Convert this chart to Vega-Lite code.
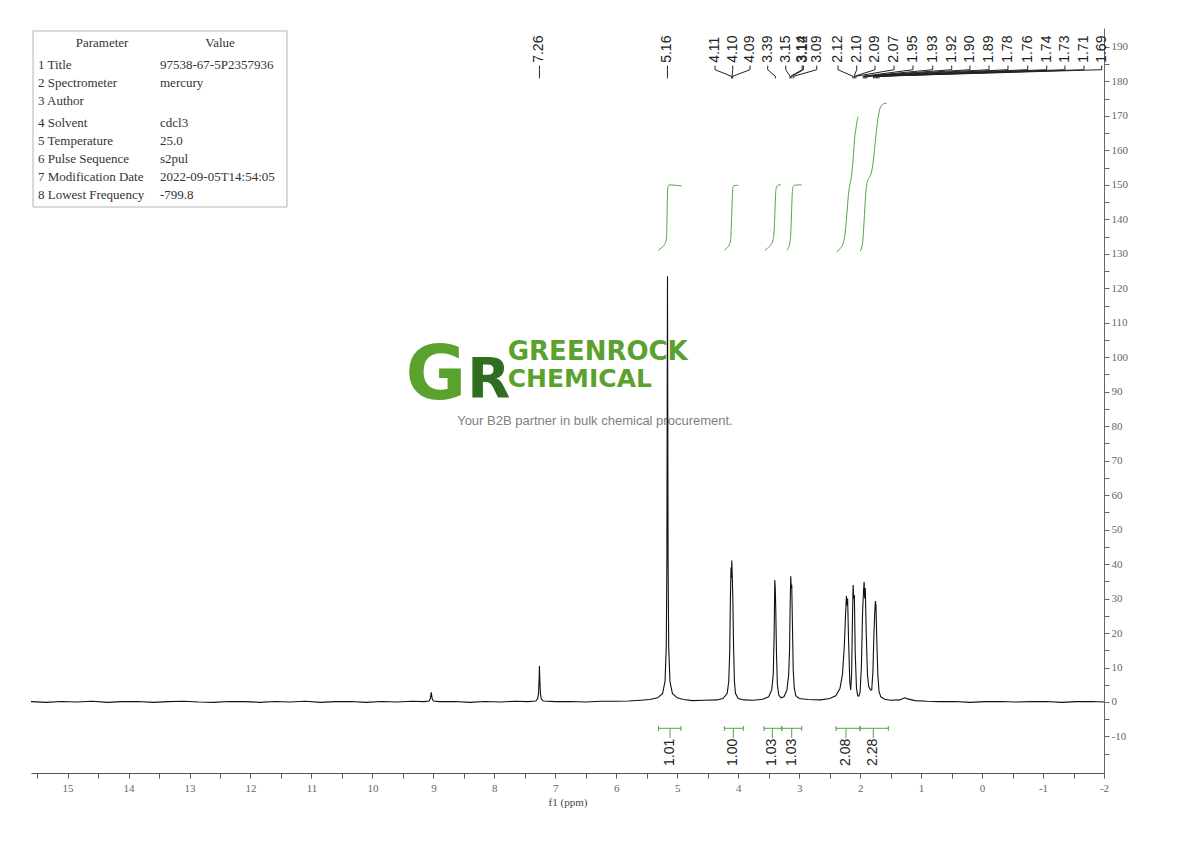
{
  "$schema": "https://vega.github.io/schema/vega-lite/v6.json",
  "width": 1073,
  "height": 745,
  "autosize": {"type": "none"},
  "padding": {"left": 31, "top": 28, "right": 86, "bottom": 68},
  "background": "white",
  "config": {"view": {"stroke": null}, "axis": {"domainWidth": 1, "tickWidth": 1}},
  "data": {"values": [{}]},
  "datasets": {
    "spectrum": [
      {"ppm": 15.6, "i": 0.1}, {"ppm": 15.35, "i": -0.1}, {"ppm": 15.1, "i": 0.15}, {"ppm": 14.85, "i": 0.0},
      {"ppm": 14.6, "i": 0.2}, {"ppm": 14.35, "i": -0.1}, {"ppm": 14.1, "i": 0.1}, {"ppm": 13.85, "i": 0.15},
      {"ppm": 13.6, "i": -0.1}, {"ppm": 13.35, "i": 0.1}, {"ppm": 13.1, "i": 0.2}, {"ppm": 12.85, "i": 0.0},
      {"ppm": 12.6, "i": -0.1}, {"ppm": 12.35, "i": 0.15}, {"ppm": 12.1, "i": 0.1}, {"ppm": 11.85, "i": -0.1},
      {"ppm": 11.6, "i": 0.15}, {"ppm": 11.35, "i": 0.0}, {"ppm": 11.1, "i": 0.2}, {"ppm": 10.85, "i": -0.1},
      {"ppm": 10.6, "i": 0.1}, {"ppm": 10.35, "i": 0.15}, {"ppm": 10.1, "i": -0.1}, {"ppm": 9.85, "i": 0.15},
      {"ppm": 9.6, "i": 0.0}, {"ppm": 9.35, "i": 0.2}, {"ppm": 9.15, "i": 0.1}, {"ppm": 9.07, "i": 0.3},
      {"ppm": 9.05, "i": 1.0}, {"ppm": 9.035, "i": 2.8}, {"ppm": 9.02, "i": 1.0}, {"ppm": 9.0, "i": 0.3},
      {"ppm": 8.9, "i": 0.1}, {"ppm": 8.65, "i": 0.15}, {"ppm": 8.4, "i": -0.1}, {"ppm": 8.15, "i": 0.15},
      {"ppm": 7.9, "i": 0.0}, {"ppm": 7.65, "i": 0.2}, {"ppm": 7.45, "i": 0.1}, {"ppm": 7.32, "i": 0.3},
      {"ppm": 7.29, "i": 0.9}, {"ppm": 7.275, "i": 2.5}, {"ppm": 7.265, "i": 7.0}, {"ppm": 7.26, "i": 10.4},
      {"ppm": 7.255, "i": 7.0}, {"ppm": 7.245, "i": 2.5}, {"ppm": 7.23, "i": 0.9}, {"ppm": 7.2, "i": 0.3},
      {"ppm": 7.0, "i": 0.1}, {"ppm": 6.75, "i": 0.15}, {"ppm": 6.5, "i": 0.0}, {"ppm": 6.25, "i": 0.2},
      {"ppm": 6.0, "i": 0.2}, {"ppm": 5.8, "i": 0.3}, {"ppm": 5.6, "i": 0.5}, {"ppm": 5.45, "i": 0.7},
      {"ppm": 5.32, "i": 1.2}, {"ppm": 5.24, "i": 2.5}, {"ppm": 5.2, "i": 6}, {"ppm": 5.18, "i": 16},
      {"ppm": 5.17, "i": 40}, {"ppm": 5.165, "i": 85}, {"ppm": 5.16, "i": 123.5}, {"ppm": 5.155, "i": 85},
      {"ppm": 5.15, "i": 40}, {"ppm": 5.14, "i": 16}, {"ppm": 5.12, "i": 6}, {"ppm": 5.08, "i": 2.5},
      {"ppm": 5.0, "i": 1.2}, {"ppm": 4.9, "i": 0.7}, {"ppm": 4.75, "i": 0.4}, {"ppm": 4.55, "i": 0.5},
      {"ppm": 4.35, "i": 0.6}, {"ppm": 4.25, "i": 1.0}, {"ppm": 4.18, "i": 2.5}, {"ppm": 4.155, "i": 6},
      {"ppm": 4.14, "i": 14}, {"ppm": 4.128, "i": 30}, {"ppm": 4.118, "i": 39}, {"ppm": 4.112, "i": 36},
      {"ppm": 4.105, "i": 41}, {"ppm": 4.098, "i": 37}, {"ppm": 4.088, "i": 30}, {"ppm": 4.076, "i": 16},
      {"ppm": 4.062, "i": 6}, {"ppm": 4.045, "i": 2.5}, {"ppm": 4.0, "i": 1.0}, {"ppm": 3.9, "i": 0.6},
      {"ppm": 3.75, "i": 0.5}, {"ppm": 3.6, "i": 0.8}, {"ppm": 3.5, "i": 1.5}, {"ppm": 3.45, "i": 3.5},
      {"ppm": 3.425, "i": 8}, {"ppm": 3.41, "i": 20}, {"ppm": 3.4, "i": 35.4}, {"ppm": 3.392, "i": 33},
      {"ppm": 3.384, "i": 27}, {"ppm": 3.372, "i": 14}, {"ppm": 3.357, "i": 5}, {"ppm": 3.335, "i": 2},
      {"ppm": 3.3, "i": 1.2}, {"ppm": 3.25, "i": 1.5}, {"ppm": 3.2, "i": 3.5}, {"ppm": 3.172, "i": 8},
      {"ppm": 3.158, "i": 15}, {"ppm": 3.148, "i": 28}, {"ppm": 3.138, "i": 36.5}, {"ppm": 3.13, "i": 33},
      {"ppm": 3.122, "i": 34}, {"ppm": 3.11, "i": 22}, {"ppm": 3.097, "i": 9}, {"ppm": 3.08, "i": 4},
      {"ppm": 3.055, "i": 1.8}, {"ppm": 3.0, "i": 1.0}, {"ppm": 2.85, "i": 0.7}, {"ppm": 2.65, "i": 0.6},
      {"ppm": 2.5, "i": 1.0}, {"ppm": 2.4, "i": 1.8}, {"ppm": 2.33, "i": 4}, {"ppm": 2.29, "i": 8},
      {"ppm": 2.26, "i": 16}, {"ppm": 2.24, "i": 25}, {"ppm": 2.225, "i": 30.7}, {"ppm": 2.215, "i": 28},
      {"ppm": 2.205, "i": 30}, {"ppm": 2.19, "i": 18}, {"ppm": 2.17, "i": 6}, {"ppm": 2.155, "i": 3.5},
      {"ppm": 2.14, "i": 8}, {"ppm": 2.125, "i": 25}, {"ppm": 2.115, "i": 33.9}, {"ppm": 2.105, "i": 30},
      {"ppm": 2.095, "i": 31}, {"ppm": 2.08, "i": 14}, {"ppm": 2.06, "i": 4}, {"ppm": 2.04, "i": 1.8},
      {"ppm": 2.02, "i": 1.7}, {"ppm": 2.0, "i": 3}, {"ppm": 1.98, "i": 10}, {"ppm": 1.96, "i": 26},
      {"ppm": 1.945, "i": 32}, {"ppm": 1.935, "i": 34.9}, {"ppm": 1.925, "i": 30}, {"ppm": 1.915, "i": 33},
      {"ppm": 1.9, "i": 20}, {"ppm": 1.88, "i": 8}, {"ppm": 1.86, "i": 4.5}, {"ppm": 1.83, "i": 3.5},
      {"ppm": 1.81, "i": 3.5}, {"ppm": 1.79, "i": 9}, {"ppm": 1.775, "i": 19}, {"ppm": 1.76, "i": 26},
      {"ppm": 1.75, "i": 29.3}, {"ppm": 1.74, "i": 28}, {"ppm": 1.73, "i": 20}, {"ppm": 1.71, "i": 8},
      {"ppm": 1.69, "i": 3}, {"ppm": 1.66, "i": 1.5}, {"ppm": 1.6, "i": 0.8}, {"ppm": 1.5, "i": 0.5},
      {"ppm": 1.35, "i": 0.6}, {"ppm": 1.27, "i": 1.2}, {"ppm": 1.22, "i": 0.9}, {"ppm": 1.1, "i": 0.4},
      {"ppm": 0.9, "i": 0.2}, {"ppm": 0.7, "i": 0.1}, {"ppm": 0.45, "i": 0.15}, {"ppm": 0.2, "i": -0.1},
      {"ppm": -0.05, "i": 0.1}, {"ppm": -0.3, "i": 0.15}, {"ppm": -0.55, "i": 0.0}, {"ppm": -0.8, "i": 0.1},
      {"ppm": -1.05, "i": 0.15}, {"ppm": -1.3, "i": -0.1}, {"ppm": -1.55, "i": 0.1}, {"ppm": -1.8, "i": 0.15},
      {"ppm": -2.0, "i": 0.0}
    ],
    "integrals": [
      {"g": 1, "ppm": 5.31, "v": 131.0}, {"g": 1, "ppm": 5.27, "v": 131.6}, {"g": 1, "ppm": 5.22, "v": 132.4},
      {"g": 1, "ppm": 5.19, "v": 133.4}, {"g": 1, "ppm": 5.175, "v": 135}, {"g": 1, "ppm": 5.17, "v": 138},
      {"g": 1, "ppm": 5.165, "v": 143}, {"g": 1, "ppm": 5.16, "v": 147.5}, {"g": 1, "ppm": 5.155, "v": 149.3},
      {"g": 1, "ppm": 5.14, "v": 149.9}, {"g": 1, "ppm": 5.1, "v": 150.0}, {"g": 1, "ppm": 5.0, "v": 149.8},
      {"g": 1, "ppm": 4.93, "v": 149.7},
      {"g": 2, "ppm": 4.225, "v": 131.0}, {"g": 2, "ppm": 4.19, "v": 131.6}, {"g": 2, "ppm": 4.15, "v": 132.5},
      {"g": 2, "ppm": 4.125, "v": 134}, {"g": 2, "ppm": 4.115, "v": 137}, {"g": 2, "ppm": 4.105, "v": 142},
      {"g": 2, "ppm": 4.095, "v": 147}, {"g": 2, "ppm": 4.085, "v": 149.2}, {"g": 2, "ppm": 4.07, "v": 149.8},
      {"g": 2, "ppm": 4.03, "v": 149.9}, {"g": 2, "ppm": 4.0, "v": 149.8},
      {"g": 3, "ppm": 3.56, "v": 131.0}, {"g": 3, "ppm": 3.52, "v": 131.6}, {"g": 3, "ppm": 3.47, "v": 132.5},
      {"g": 3, "ppm": 3.43, "v": 134}, {"g": 3, "ppm": 3.41, "v": 137}, {"g": 3, "ppm": 3.4, "v": 141},
      {"g": 3, "ppm": 3.39, "v": 146}, {"g": 3, "ppm": 3.38, "v": 148.8}, {"g": 3, "ppm": 3.36, "v": 149.7},
      {"g": 3, "ppm": 3.33, "v": 150.0}, {"g": 3, "ppm": 3.3, "v": 150.0},
      {"g": 4, "ppm": 3.2, "v": 131.0}, {"g": 4, "ppm": 3.175, "v": 131.8}, {"g": 4, "ppm": 3.15, "v": 133.5},
      {"g": 4, "ppm": 3.135, "v": 137}, {"g": 4, "ppm": 3.125, "v": 142}, {"g": 4, "ppm": 3.115, "v": 147},
      {"g": 4, "ppm": 3.1, "v": 149.4}, {"g": 4, "ppm": 3.07, "v": 149.9}, {"g": 4, "ppm": 3.0, "v": 150.0},
      {"g": 4, "ppm": 2.96, "v": 150.0},
      {"g": 5, "ppm": 2.385, "v": 130.6}, {"g": 5, "ppm": 2.33, "v": 131.5}, {"g": 5, "ppm": 2.28, "v": 133},
      {"g": 5, "ppm": 2.25, "v": 135.4}, {"g": 5, "ppm": 2.22, "v": 141}, {"g": 5, "ppm": 2.194, "v": 146.7},
      {"g": 5, "ppm": 2.17, "v": 150}, {"g": 5, "ppm": 2.15, "v": 151.5}, {"g": 5, "ppm": 2.13, "v": 154.5},
      {"g": 5, "ppm": 2.11, "v": 158.6}, {"g": 5, "ppm": 2.09, "v": 163.5}, {"g": 5, "ppm": 2.068, "v": 166.4},
      {"g": 5, "ppm": 2.05, "v": 168.6}, {"g": 5, "ppm": 2.03, "v": 169.8},
      {"g": 6, "ppm": 2.0, "v": 130.8}, {"g": 6, "ppm": 1.975, "v": 131.8}, {"g": 6, "ppm": 1.958, "v": 133.5},
      {"g": 6, "ppm": 1.94, "v": 138}, {"g": 6, "ppm": 1.92, "v": 144.2}, {"g": 6, "ppm": 1.9, "v": 149},
      {"g": 6, "ppm": 1.87, "v": 151.5}, {"g": 6, "ppm": 1.838, "v": 152.4}, {"g": 6, "ppm": 1.81, "v": 154},
      {"g": 6, "ppm": 1.784, "v": 156.8}, {"g": 6, "ppm": 1.76, "v": 161}, {"g": 6, "ppm": 1.728, "v": 166.4},
      {"g": 6, "ppm": 1.7, "v": 170}, {"g": 6, "ppm": 1.674, "v": 172.2}, {"g": 6, "ppm": 1.64, "v": 173.2},
      {"g": 6, "ppm": 1.6, "v": 173.6}, {"g": 6, "ppm": 1.564, "v": 173.7}
    ],
    "bars": [
      {"label": "1.01", "from": 5.307, "to": 4.939, "center": 5.118},
      {"label": "1.00", "from": 4.228, "to": 3.916, "center": 4.08},
      {"label": "1.03", "from": 3.577, "to": 3.286, "center": 3.44},
      {"label": "1.03", "from": 3.286, "to": 2.958, "center": 3.122},
      {"label": "2.08", "from": 2.396, "to": 2.002, "center": 2.232},
      {"label": "2.28", "from": 2.002, "to": 1.538, "center": 1.784}
    ],
    "peaks": [
      {"t": "7.26", "pos": 7.26, "ppm": 7.26},
      {"t": "5.16", "pos": 5.16, "ppm": 5.16},
      {"t": "4.11", "pos": 4.38, "ppm": 4.11},
      {"t": "4.10", "pos": 4.09, "ppm": 4.10},
      {"t": "4.09", "pos": 3.806, "ppm": 4.09},
      {"t": "3.39", "pos": 3.516, "ppm": 3.39},
      {"t": "3.15", "pos": 3.22, "ppm": 3.15},
      {"t": "3.14", "pos": 2.95, "ppm": 3.14},
      {"t": "3.12", "pos": 2.93, "ppm": 3.12},
      {"t": "3.09", "pos": 2.712, "ppm": 3.09},
      {"t": "2.12", "pos": 2.363, "ppm": 2.12},
      {"t": "2.10", "pos": 2.056, "ppm": 2.10},
      {"t": "2.09", "pos": 1.756, "ppm": 2.09},
      {"t": "2.07", "pos": 1.444, "ppm": 2.07},
      {"t": "1.95", "pos": 1.133, "ppm": 1.95},
      {"t": "1.93", "pos": 0.81, "ppm": 1.93},
      {"t": "1.92", "pos": 0.498, "ppm": 1.92},
      {"t": "1.90", "pos": 0.198, "ppm": 1.90},
      {"t": "1.89", "pos": -0.114, "ppm": 1.89},
      {"t": "1.78", "pos": -0.425, "ppm": 1.78},
      {"t": "1.76", "pos": -0.749, "ppm": 1.76},
      {"t": "1.74", "pos": -1.06, "ppm": 1.74},
      {"t": "1.73", "pos": -1.36, "ppm": 1.73},
      {"t": "1.71", "pos": -1.672, "ppm": 1.71},
      {"t": "1.69", "pos": -1.962, "ppm": 1.69}
    ],
    "table": [
      {"col": "param", "grp": "head", "lines": ["Parameter"]},
      {"col": "value", "grp": "head", "lines": ["Value"]},
      {"col": "param", "grp": "a", "lines": ["1 Title", "2 Spectrometer", "3 Author"]},
      {"col": "value", "grp": "a", "lines": ["97538-67-5P2357936", "mercury"]},
      {"col": "param", "grp": "b", "lines": ["4 Solvent", "5 Temperature", "6 Pulse Sequence", "7 Modification Date", "8 Lowest Frequency"]},
      {"col": "value", "grp": "b", "lines": ["cdcl3", "25.0", "s2pul", "2022-09-05T14:54:05", "-799.8"]}
    ]
  },
  "layer": [
    {
      "mark": {"type": "rect", "fill": "white", "fillOpacity": 0, "stroke": "#b4b4b4", "strokeWidth": 1},
      "encoding": {
        "x": {"datum": 15.567, "type": "quantitative", "scale": {"domain": [15.6, -2], "nice": false, "zero": false}},
        "x2": {"datum": 11.401},
        "y": {"datum": 194.63, "type": "quantitative", "scale": {"domain": [-20.6, 195.5], "nice": false, "zero": false}},
        "y2": {"datum": 143.57}
      }
    },
    {
      "data": {"name": "table"},
      "transform": [{"filter": "datum.col === 'param' && datum.grp === 'head'"}],
      "mark": {"type": "text", "align": "center", "baseline": "alphabetic", "font": "Liberation Serif", "fontSize": 13, "color": "#333"},
      "encoding": {"x": {"datum": 14.435, "type": "quantitative"}, "y": {"datum": 190.02, "type": "quantitative"}, "text": {"field": "lines"}}
    },
    {
      "data": {"name": "table"},
      "transform": [{"filter": "datum.col === 'value' && datum.grp === 'head'"}],
      "mark": {"type": "text", "align": "center", "baseline": "alphabetic", "font": "Liberation Serif", "fontSize": 13, "color": "#333"},
      "encoding": {"x": {"datum": 12.5, "type": "quantitative"}, "y": {"datum": 190.02, "type": "quantitative"}, "text": {"field": "lines"}}
    },
    {
      "data": {"name": "table"},
      "transform": [{"filter": "datum.col === 'param' && datum.grp === 'a'"}],
      "mark": {"type": "text", "align": "left", "baseline": "alphabetic", "lineHeight": 18, "font": "Liberation Serif", "fontSize": 13, "color": "#333"},
      "encoding": {"x": {"datum": 15.485, "type": "quantitative"}, "y": {"datum": 183.63, "type": "quantitative"}, "text": {"field": "lines"}}
    },
    {
      "data": {"name": "table"},
      "transform": [{"filter": "datum.col === 'value' && datum.grp === 'a'"}],
      "mark": {"type": "text", "align": "left", "baseline": "alphabetic", "lineHeight": 18, "font": "Liberation Serif", "fontSize": 13, "color": "#333"},
      "encoding": {"x": {"datum": 13.484, "type": "quantitative"}, "y": {"datum": 183.63, "type": "quantitative"}, "text": {"field": "lines"}}
    },
    {
      "data": {"name": "table"},
      "transform": [{"filter": "datum.col === 'param' && datum.grp === 'b'"}],
      "mark": {"type": "text", "align": "left", "baseline": "alphabetic", "lineHeight": 18, "font": "Liberation Serif", "fontSize": 13, "color": "#333"},
      "encoding": {"x": {"datum": 15.485, "type": "quantitative"}, "y": {"datum": 166.81, "type": "quantitative"}, "text": {"field": "lines"}}
    },
    {
      "data": {"name": "table"},
      "transform": [{"filter": "datum.col === 'value' && datum.grp === 'b'"}],
      "mark": {"type": "text", "align": "left", "baseline": "alphabetic", "lineHeight": 18, "font": "Liberation Serif", "fontSize": 13, "color": "#333"},
      "encoding": {"x": {"datum": 13.484, "type": "quantitative"}, "y": {"datum": 166.81, "type": "quantitative"}, "text": {"field": "lines"}}
    },
    {
      "mark": {"type": "text", "text": "G", "font": "DejaVu Sans", "fontWeight": "bold", "fontSize": 74, "color": "#5aa12e", "align": "center", "baseline": "alphabetic"},
      "encoding": {"x": {"datum": 8.96, "type": "quantitative"}, "y": {"datum": 87.8, "type": "quantitative"}}
    },
    {
      "mark": {"type": "text", "text": "R", "font": "DejaVu Sans", "fontWeight": "bold", "fontSize": 56, "color": "#2f6d1f", "align": "center", "baseline": "alphabetic"},
      "encoding": {"x": {"datum": 8.09, "type": "quantitative"}, "y": {"datum": 88.4, "type": "quantitative"}}
    },
    {
      "mark": {"type": "text", "text": "GREENROCK", "font": "DejaVu Sans", "fontWeight": "bold", "fontSize": 26, "color": "#5aa12e", "align": "left", "baseline": "alphabetic"},
      "encoding": {"x": {"datum": 7.78, "type": "quantitative"}, "y": {"datum": 99.2, "type": "quantitative"}}
    },
    {
      "mark": {"type": "text", "text": "CHEMICAL", "font": "DejaVu Sans", "fontWeight": "bold", "fontSize": 25, "color": "#5aa12e", "align": "left", "baseline": "alphabetic"},
      "encoding": {"x": {"datum": 7.78, "type": "quantitative"}, "y": {"datum": 91.4, "type": "quantitative"}}
    },
    {
      "mark": {"type": "text", "text": "Your B2B partner in bulk chemical procurement.", "font": "Liberation Sans", "fontSize": 13, "color": "#808080", "align": "center", "baseline": "middle"},
      "encoding": {"x": {"datum": 6.35, "type": "quantitative"}, "y": {"datum": 81.5, "type": "quantitative"}}
    },
    {
      "data": {"name": "integrals"},
      "mark": {"type": "line", "color": "#4fa544", "strokeWidth": 1, "interpolate": "monotone"},
      "encoding": {
        "x": {"field": "ppm", "type": "quantitative"},
        "y": {"field": "v", "type": "quantitative"},
        "detail": {"field": "g"}
      }
    },
    {
      "data": {"name": "bars"},
      "mark": {"type": "rule", "color": "#4fa544", "strokeWidth": 1},
      "encoding": {"x": {"field": "from", "type": "quantitative"}, "x2": {"field": "to"}, "y": {"datum": -7.63, "type": "quantitative"}}
    },
    {
      "data": {"name": "bars"},
      "mark": {"type": "rule", "color": "#4fa544", "strokeWidth": 1},
      "encoding": {"x": {"field": "from", "type": "quantitative"}, "y": {"datum": -6.96, "type": "quantitative"}, "y2": {"datum": -8.41}}
    },
    {
      "data": {"name": "bars"},
      "mark": {"type": "rule", "color": "#4fa544", "strokeWidth": 1},
      "encoding": {"x": {"field": "to", "type": "quantitative"}, "y": {"datum": -6.96, "type": "quantitative"}, "y2": {"datum": -8.41}}
    },
    {
      "data": {"name": "bars"},
      "mark": {"type": "rule", "color": "#4fa544", "strokeWidth": 1},
      "encoding": {"x": {"field": "center", "type": "quantitative"}, "y": {"datum": -7.63, "type": "quantitative"}, "y2": {"datum": -10.44}}
    },
    {
      "data": {"name": "bars"},
      "mark": {"type": "text", "angle": 270, "align": "center", "baseline": "middle", "font": "Liberation Sans", "fontSize": 14, "color": "#222"},
      "encoding": {"x": {"field": "center", "type": "quantitative"}, "y": {"datum": -14.6, "type": "quantitative"}, "text": {"field": "label"}}
    },
    {
      "data": {"name": "spectrum"},
      "mark": {"type": "line", "color": "#111", "strokeWidth": 1.1},
      "encoding": {
        "x": {
          "field": "ppm", "type": "quantitative",
          "scale": {"domain": [15.6, -2], "nice": false, "zero": false},
          "axis": {
            "title": "f1 (ppm)",
            "values": [15.5, 15, 14.5, 14, 13.5, 13, 12.5, 12, 11.5, 11, 10.5, 10, 9.5, 9, 8.5, 8, 7.5, 7, 6.5, 6, 5.5, 5, 4.5, 4, 3.5, 3, 2.5, 2, 1.5, 1, 0.5, 0, -0.5, -1, -1.5, -2],
            "tickCount": 500,
            "labelExpr": "datum.value % 1 === 0 ? '' + datum.value : ''",
            "tickSize": 5, "labelPadding": 4, "labelFlush": false, "labelOverlap": false, "grid": false,
            "labelFont": "Liberation Serif", "labelFontSize": 11, "labelColor": "#666",
            "tickColor": "#555", "domainColor": "#555",
            "titleFont": "Liberation Serif", "titleFontSize": 11, "titleFontWeight": "normal", "titleColor": "#444", "titlePadding": 3
          }
        },
        "y": {
          "field": "i", "type": "quantitative",
          "scale": {"domain": [-20.6, 195.5], "nice": false, "zero": false},
          "axis": {
            "orient": "right", "title": null,
            "values": [-15, -10, -5, 0, 5, 10, 15, 20, 25, 30, 35, 40, 45, 50, 55, 60, 65, 70, 75, 80, 85, 90, 95, 100, 105, 110, 115, 120, 125, 130, 135, 140, 145, 150, 155, 160, 165, 170, 175, 180, 185, 190],
            "tickCount": 500,
            "labelExpr": "datum.value % 10 === 0 ? '' + datum.value : ''",
            "tickSize": 5, "labelPadding": 2, "labelOverlap": false, "labelFlush": false, "grid": false,
            "labelFont": "Liberation Serif", "labelFontSize": 11, "labelColor": "#666",
            "tickColor": "#666", "domainColor": "#666"
          }
        }
      }
    },
    {
      "data": {"name": "peaks"},
      "mark": {"type": "text", "angle": 270, "align": "left", "baseline": "middle", "font": "Liberation Sans", "fontSize": 14, "color": "#222"},
      "encoding": {"x": {"field": "pos", "type": "quantitative"}, "y": {"datum": 185.4, "type": "quantitative"}, "text": {"field": "t"}}
    },
    {
      "data": {"name": "peaks"},
      "mark": {"type": "rule", "color": "#222", "strokeWidth": 1},
      "encoding": {"x": {"field": "pos", "type": "quantitative"}, "y": {"datum": 184.6, "type": "quantitative"}, "y2": {"datum": 183.4}}
    },
    {
      "data": {"name": "peaks"},
      "mark": {"type": "rule", "color": "#222", "strokeWidth": 1},
      "encoding": {"x": {"field": "pos", "type": "quantitative"}, "x2": {"field": "ppm"}, "y": {"datum": 183.4, "type": "quantitative"}, "y2": {"datum": 181.5}}
    },
    {
      "data": {"name": "peaks"},
      "mark": {"type": "rule", "color": "#222", "strokeWidth": 1},
      "encoding": {"x": {"field": "ppm", "type": "quantitative"}, "y": {"datum": 181.5, "type": "quantitative"}, "y2": {"datum": 180.9}}
    }
  ]
}
